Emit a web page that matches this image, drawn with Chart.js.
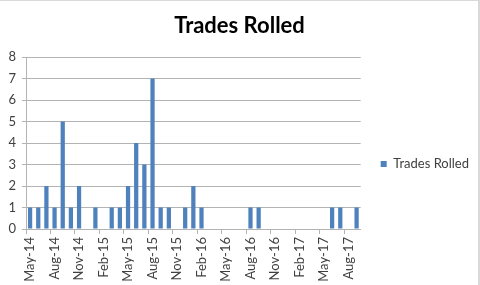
<!DOCTYPE html>
<html>
<head>
<meta charset="utf-8">
<script src="https://cdn.jsdelivr.net/npm/chart.js@4/dist/chart.umd.min.js"></script>
<style>
  html, body { margin: 0; padding: 0; background: #fff; }
  #wrap { position: relative; width: 480px; height: 285px; }
  #frame { position: absolute; left: 0; top: 0; right: 0; bottom: 0;
           border-top: 1px solid #d9d9d9; border-right: 2px solid #d9d9d9;
           pointer-events: none; }
</style>
</head>
<body>
<div id="wrap">
  <canvas id="chart"></canvas>
  <div id="frame"></div>
</div>
<script>
(() => {
  "use strict";

  // Data
  const months = [
    "May-14", "Jun-14", "Jul-14", "Aug-14", "Sep-14", "Oct-14", "Nov-14", "Dec-14",
    "Jan-15", "Feb-15", "Mar-15", "Apr-15", "May-15", "Jun-15", "Jul-15", "Aug-15",
    "Sep-15", "Oct-15", "Nov-15", "Dec-15", "Jan-16", "Feb-16", "Mar-16", "Apr-16",
    "May-16", "Jun-16", "Jul-16", "Aug-16", "Sep-16", "Oct-16", "Nov-16", "Dec-16",
    "Jan-17", "Feb-17", "Mar-17", "Apr-17", "May-17", "Jun-17", "Jul-17", "Aug-17",
    "Sep-17"
  ];
  const tradesRolled = [
    1, 1, 2, 1, 5, 1, 2, 0,
    1, 0, 1, 1, 2, 4, 3, 7,
    1, 1, 0, 1, 2, 1, 0, 0,
    0, 0, 0, 1, 1, 0, 0, 0,
    0, 0, 0, 0, 0, 1, 1, 0,
    1
  ];
  const yTicks = [0, 1, 2, 3, 4, 5, 6, 7, 8];
  const labelEvery = 3; // Excel date axis, major unit 3 months

  const FONT = "Lato, 'Liberation Sans', sans-serif";
  const GRID = "#b3b3b3";
  const TEXT = "#404040";

  new Chart(document.getElementById("chart"), {
    type: "bar",
    data: {
      labels: months,
      datasets: [{
        label: "Trades Rolled",
        data: tradesRolled,
        backgroundColor: "#4f81bd",
        borderWidth: 0,
        categoryPercentage: 1,
        barPercentage: 0.52
      }]
    },
    options: {
      responsive: true,
      maintainAspectRatio: false,
      animation: false,
      layout: { padding: { top: 0, left: 0, right: 1, bottom: 0 } },
      plugins: {
        title: {
          display: true,
          text: "Trades Rolled",
          color: "#000",
          font: { family: FONT, size: 22, weight: "bold" },
          padding: { top: 13, bottom: 17.6 }
        },
        legend: {
          position: "right",
          title: { display: true, text: "", font: { size: 1 }, padding: { top: 42, bottom: 0 } },
          labels: {
            boxWidth: 6,
            boxHeight: 6,
            padding: 20,
            color: TEXT,
            font: { family: FONT, size: 13 }
          }
        },
        tooltip: { enabled: false }
      },
      scales: {
        x: {
          afterFit: (s) => { s.height = 56; },
          grid: {
            display: true,
            offset: true,
            drawOnChartArea: false,
            tickLength: 5,
            color: (ctx) => (ctx.index % labelEvery === 0 ? GRID : "rgba(0,0,0,0)")
          },
          border: { display: true, color: GRID },
          ticks: {
            autoSkip: false,
            minRotation: 90,
            maxRotation: 90,
            padding: 3,
            color: TEXT,
            font: { family: FONT, size: 13 },
            callback: function (v, i) {
              return i % labelEvery === 0 ? this.getLabelForValue(v) : "";
            }
          }
        },
        y: {
          min: yTicks[0],
          max: yTicks[yTicks.length - 1],
          afterFit: (s) => { s.width = 26; },
          afterBuildTicks: (s) => { s.ticks = yTicks.map(v => ({ value: v })); },
          grid: { color: GRID, tickLength: 4 },
          border: { display: true, color: GRID },
          ticks: {
            padding: 6,
            color: TEXT,
            font: { family: FONT, size: 13 }
          }
        }
      }
    }
  });
})();
</script>
</body>
</html>
